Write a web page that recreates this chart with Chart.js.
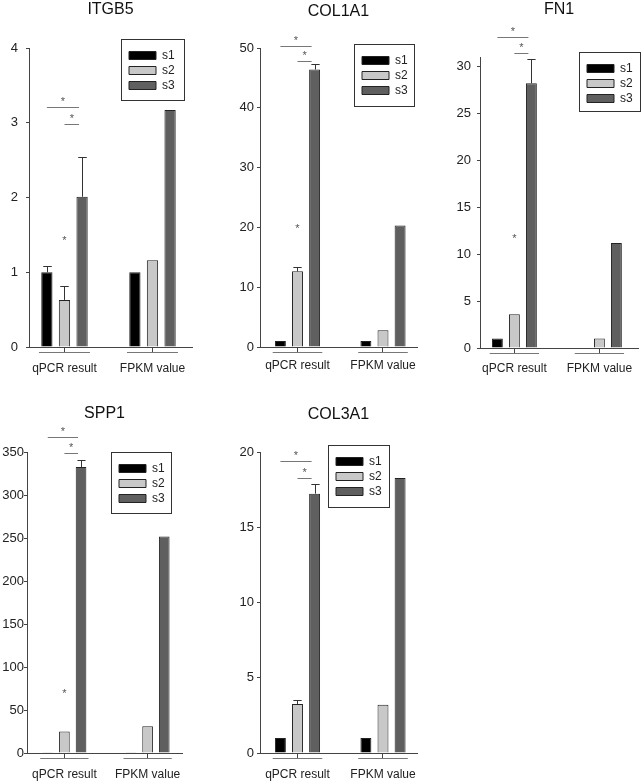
<!DOCTYPE html>
<html><head><meta charset="utf-8">
<script src="https://cdn.jsdelivr.net/npm/chart.js@4.4.1/dist/chart.umd.min.js"></script>
<style>
html,body{margin:0;padding:0;background:#fff}
body{position:relative;width:644px;height:784px;overflow:hidden}
canvas{position:absolute}
</style></head><body>
<script>
const groups=['qPCR result','FPKM value']
const series=['s1','s2','s3']
const groupX=[0,1]

// ITGB5
const itgb5Qpcr=[1.0,0.63,2.01]
const itgb5Err=[1.09,0.82,2.54]
const itgb5Fpkm=[1.0,1.16,3.17]
const itgb5Sig=[3.21,2.98,1.45]   // s1-s3 bar, s2-s3 bar, star over s2
const itgb5Ticks=[0,1,2,3,4]
// COL1A1
const col1a1Qpcr=[1.0,12.66,46.4]
const col1a1Err=[1.0,13.38,47.3]
const col1a1Fpkm=[1.0,2.79,20.3]
const col1a1Sig=[50.4,47.8,20.1]
const col1a1Ticks=[0,10,20,30,40,50]
// FN1
const fn1Qpcr=[1.0,3.6,28.2]
const fn1Err=[1.0,3.78,30.8]
const fn1Fpkm=[0,1.0,11.18]
const fn1Sig=[33.1,31.4,11.9]
const fn1Ticks=[0,5,10,15,20,25,30]
// SPP1
const spp1Qpcr=[1.0,24.9,332.6]
const spp1Err=[1.0,24.9,340.3]
const spp1Fpkm=[1.0,31.1,251.7]
const spp1Sig=[367.6,348.3,71.9]
const spp1Ticks=[0,50,100,150,200,250,300,350]
// COL3A1
const col3a1Qpcr=[1.0,3.26,17.23]
const col3a1Err=[1.1,3.54,17.85]
const col3a1Fpkm=[1.0,3.2,18.27]
const col3a1Sig=[19.37,18.27,null]
const col3a1Ticks=[0,5,10,15,20]

const colors=['#000000','#c8c8c8','#5f5f5f']
Chart.defaults.font.family='"Liberation Sans", Arial, sans-serif'
Chart.defaults.color='#222'

// page geometry: canvas box, chart area, title centre, x range, legend box
const panels=[
  {title:'ITGB5',cv:[0,0,215,390],area:[29,48,192,347],ty:10,xr:[-0.403,1.449],yMax:4,lg:[121,39,63,61],yPad:8,xPad:9,
   qpcr:itgb5Qpcr,err:itgb5Err,fpkm:itgb5Fpkm,sig:itgb5Sig,ticks:itgb5Ticks},
  {title:'COL1A1',cv:[215,0,210,390],area:[260,48,417,347],ty:11.7,xr:[-0.4386,1.3977],yMax:50,lg:[354,44,60,62],yPad:3,xPad:6.5,
   qpcr:col1a1Qpcr,err:col1a1Err,fpkm:col1a1Fpkm,sig:col1a1Sig,ticks:col1a1Ticks},
  {title:'FN1',cv:[425,0,219,390],area:[480,57,638,348],ty:10,xr:[-0.4047,1.4541],yMax:31,lg:[579,52,61,59],yPad:6,xPad:8,
   qpcr:fn1Qpcr,err:fn1Err,fpkm:fn1Fpkm,sig:fn1Sig,ticks:fn1Ticks},
  {title:'SPP1',cv:[0,395,215,389],area:[27,452,182,753],ty:413.8,xr:[-0.4495,1.4135],yMax:350,lg:[111,452,60,61],yPad:0,xPad:9,
   qpcr:spp1Qpcr,err:spp1Err,fpkm:spp1Fpkm,sig:spp1Sig,ticks:spp1Ticks},
  {title:'COL3A1',cv:[215,395,215,389],area:[260,452,417,753],ty:415,xr:[-0.4386,1.3977],yMax:20,lg:[328,445,61,62],yPad:3,xPad:9,
   qpcr:col3a1Qpcr,err:col3a1Err,fpkm:col3a1Fpkm,sig:col3a1Sig,ticks:col3a1Ticks}
]

function marks(p){
  const [cx,cy]=p.cv
  const lx=p.lg[0]-cx, ly=p.lg[1]-cy
  const star=(ctx,x,y)=>{ctx.fillStyle='#555';ctx.font='11px "Liberation Sans", Arial';ctx.textAlign='center';ctx.textBaseline='middle';ctx.fillText('*',x,y+2.5)}
  return {id:'marks',
    afterLayout(chart){
      const lg=chart.legend; if(!lg) return
      const dx=lx+5-lg.left, dy=ly+7.5-lg.top
      lg.left+=dx;lg.right+=dx;lg.top+=dy;lg.bottom+=dy
    },
    afterDatasetsDraw(chart){
      const ctx=chart.ctx, ys=chart.scales.y, xs=chart.scales.x, a=chart.chartArea
      const bar=i=>chart.getDatasetMeta(i).data[0]
      ctx.save();ctx.lineWidth=1
      // error bars on the qPCR group
      ctx.strokeStyle='#333'
      p.err.forEach((e,i)=>{
        const top=ys.getPixelForValue(p.qpcr[i]), ey=Math.round(ys.getPixelForValue(e))+0.5
        if(top-ey<1.5) return
        const b=bar(i), x=Math.round(b.x)+0.5, hw=b.width*0.38
        ctx.beginPath();ctx.moveTo(x,top);ctx.lineTo(x,ey);ctx.moveTo(x-hw,ey);ctx.lineTo(x+hw,ey);ctx.stroke()
      })
      // group underlines
      ctx.strokeStyle='#777'
      const uy=Math.round(a.bottom+5)+0.5
      groupX.forEach(v=>{ctx.beginPath();ctx.moveTo(xs.getPixelForValue(v-0.29),uy);ctx.lineTo(xs.getPixelForValue(v+0.29),uy);ctx.stroke()})
      // significance bars
      ;[[0,2],[1,2]].forEach(([i,j],k)=>{
        const y=Math.round(ys.getPixelForValue(p.sig[k]))+0.5, x0=bar(i).x, x1=bar(j).x-3
        ctx.strokeStyle='#777';ctx.beginPath();ctx.moveTo(x0,y);ctx.lineTo(x1,y);ctx.stroke()
        star(ctx,(x0+x1)/2,y-8)
      })
      if(p.sig[2]!=null) star(ctx,bar(1).x,ys.getPixelForValue(p.sig[2]))
      ctx.restore()
    },
    afterDraw(chart){
      const ctx=chart.ctx
      ctx.save();ctx.strokeStyle='#333';ctx.lineWidth=1
      ctx.strokeRect(lx+0.5,ly+0.5,p.lg[2],p.lg[3])
      ctx.restore()
    }
  }
}

panels.forEach(p=>{
  const [cx,cy,cw,ch]=p.cv, [l,t,r,b]=p.area, xH=28
  const cv=document.createElement('canvas')
  cv.width=cw;cv.height=ch
  cv.style.left=cx+'px';cv.style.top=cy+'px';cv.style.width=cw+'px';cv.style.height=ch+'px'
  document.body.appendChild(cv)
  new Chart(cv,{
    type:'bar',
    data:{datasets:series.map((s,i)=>({
      label:s,
      data:groupX.map((x,g)=>({x,y:(g===0?p.qpcr:p.fpkm)[i]})),
      backgroundColor:colors[i],borderColor:'#222',borderWidth:1,
      categoryPercentage:0.6,barPercentage:0.64
    }))},
    options:{
      responsive:false,animation:false,
      layout:{padding:{left:0,top:0,right:cx+cw-r,bottom:cy+ch-b-xH}},
      plugins:{
        title:{display:true,text:p.title,fullSize:false,color:'#111',font:{size:16,weight:'normal'},
          padding:{top:p.ty-cy-9.6,bottom:t-p.ty-9.6}},
        legend:{position:'chartArea',align:'start',
          labels:{boxWidth:27,boxHeight:8,padding:3,color:'#222',font:{size:12}}},
        tooltip:{enabled:false}
      },
      scales:{
        x:{type:'linear',min:p.xr[0],max:p.xr[1],bounds:'data',offset:false,
          afterBuildTicks:s=>{s.ticks=groupX.map(v=>({value:v}))},
          afterFit:s=>{s.height=xH},
          ticks:{callback:(v,i)=>groups[i],font:{size:12},color:'#222',padding:p.xPad,maxRotation:0,autoSkip:false},
          grid:{display:true,offset:false,drawOnChartArea:false,drawTicks:true,tickLength:5,tickColor:'#444'},
          border:{display:true,color:'#444'}},
        y:{min:0,max:p.yMax,bounds:'data',
          afterBuildTicks:s=>{s.ticks=p.ticks.map(v=>({value:v}))},
          afterFit:s=>{s.width=l-cx},
          ticks:{callback:v=>String(v),font:{size:13},color:'#222',padding:p.yPad},
          grid:{display:true,drawOnChartArea:false,drawTicks:true,tickLength:3,tickColor:'#444'},
          border:{display:true,color:'#444'}}
      }
    },
    plugins:[marks(p)]
  })
})
</script>
</body></html>
